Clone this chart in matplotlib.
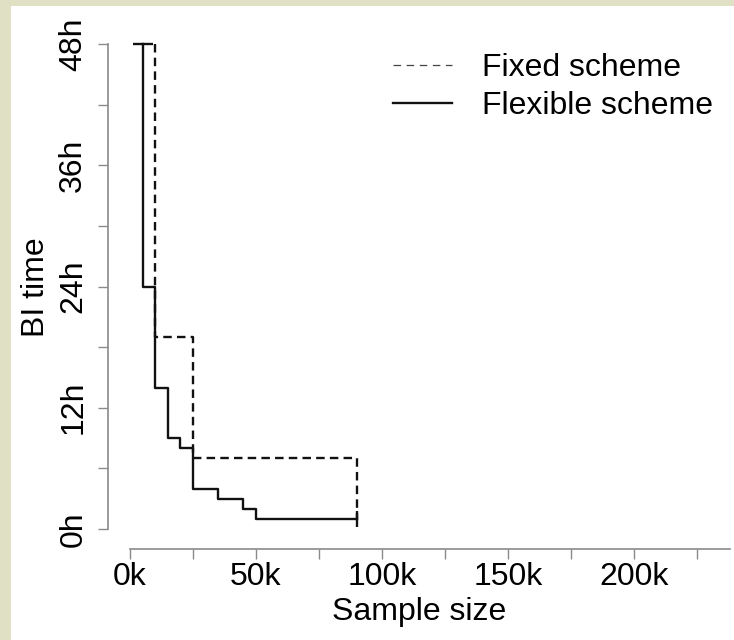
import numpy as np
import matplotlib
matplotlib.use("Agg")
import matplotlib.pyplot as plt
from matplotlib.lines import Line2D
from matplotlib.patches import Rectangle

plt.rcParams['font.family'] = ['Liberation Sans', 'DejaVu Sans']

# sample size (thousands) and BI time (hours), step curves
flex_n = [5, 5, 10, 15, 20, 25, 35, 45, 50, 90]
flex_h = [48, 24, 14, 9, 8, 4, 3, 2, 1, 1]
fixed_n = [10, 10, 25, 90, 90]
fixed_h = [48, 19, 7, 7, 1]

xticks_major = [0, 50, 100, 150, 200]
xticks_minor = [25, 75, 125, 175, 225]
yticks_major = [0, 12, 24, 36, 48]
yticks_minor = [6, 18, 30, 42]
ytick_labels = ['0h', '12h', '24h', '36h', '48h']
xtick_labels = ['0k', '50k', '100k', '150k', '200k']

W, H = 734, 640
fs = 23
fig = plt.figure(figsize=(W / 100, H / 100), dpi=100, facecolor='#dfe0c4')
fig.add_artist(Rectangle((11 / W, 0), 1, 1 - 6 / H, transform=fig.transFigure,
                         facecolor='white', edgecolor='none', zorder=-10))

# axes box in pixels: x 130..730, y 44..529
ax = fig.add_axes([130 / W, (H - 529) / H, 600 / W, 485 / H])
ax.patch.set_alpha(0)
ax.set_xlim(0, 600 * 50 / 126)
ax.set_ylim(0, 48)

ink = '#111111'
ax.step(fixed_n, fixed_h, where='post', color=ink, lw=1.7, dashes=(3.6, 2.2),
        clip_on=False)
ax.step(flex_n, flex_h, where='post', color=ink, lw=1.7, clip_on=False)
ax.plot(flex_n[0], flex_h[0], marker='_', ms=15, mew=1.7, color=ink, clip_on=False)
ax.plot(flex_n[-1], flex_h[-1], marker='|', ms=12, mew=1.7, color=ink, clip_on=False)

for s in ['top', 'right']:
    ax.spines[s].set_visible(False)
grey = '#8a8a8a'
ax.spines['left'].set_position(('outward', 22 * 0.72))
ax.spines['bottom'].set_position(('outward', 20 * 0.72))
for s in ['left', 'bottom']:
    ax.spines[s].set_color(grey)
    ax.spines[s].set_linewidth(1.2)

ax.set_xticks(xticks_major, xtick_labels)
ax.set_xticks(xticks_minor, minor=True)
ax.set_yticks(yticks_major, ytick_labels)
ax.set_yticks(yticks_minor, minor=True)
ax.tick_params(which='both', length=7.2, width=1, color=grey, labelsize=fs)
ax.tick_params(axis='x', which='major', pad=2)
ax.tick_params(axis='y', which='major', pad=7)
for lab in ax.get_yticklabels():
    lab.set_rotation(90)
    lab.set_va('center')

fig.text(36 / W, 1 - 287 / H, 'BI time', rotation=90, ha='center', va='center',
         fontsize=fs)
fig.text(419 / W, 1 - 612 / H, 'Sample size', ha='center', va='center',
         fontsize=fs)

handles = [Line2D([], [], color='#444444', lw=0.9, dashes=(6, 4.5)),
           Line2D([], [], color=ink, lw=1.7)]
fig.legend(handles, ['Fixed scheme', 'Flexible scheme'], loc='upper left',
           bbox_to_anchor=(393 / W, 1 - 53 / H), frameon=False, fontsize=fs,
           handlelength=1.85, handletextpad=0.94, borderpad=0, borderaxespad=0,
           labelspacing=0.26)

fig.savefig('out.png', dpi=100, facecolor=fig.get_facecolor())
